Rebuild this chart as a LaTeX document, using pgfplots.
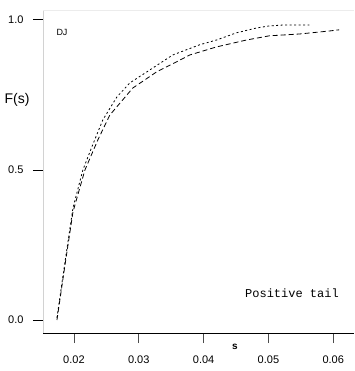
\documentclass[border=0pt]{standalone}
\usepackage{fontspec}
\setmainfont{Liberation Sans}
\setmonofont{Liberation Mono}
\usepackage{pgfplots}
\pgfplotsset{compat=1.18}
\begin{document}
\begin{tikzpicture}
\path[use as bounding box] (-43pt,-38pt) rectangle (311pt,333pt);
\begin{axis}[
  at={(0pt,0pt)}, anchor=south west,
  scale only axis, width=311pt, height=323pt,
  xmin=0.01523, xmax=0.0632, ymin=-0.0433, ymax=1.033,
  axis line style={draw=none},
  tick pos=left, tick align=outside,
  xtick={0.02,0.03,0.04,0.05,0.06},
  xticklabels={0.02,0.03,0.04,0.05,0.06},
  ytick={0,0.5,1},
  yticklabels={0.0,0.5,1.0},
  x tick style={black!70, line width=0.6pt},
  y tick style={black, line width=0.8pt},
  major tick length=10pt,
  tick label style={font=\fontsize{11}{12}\selectfont},
  xticklabel style={yshift=-12pt, inner sep=1pt},
  yticklabel style={xshift=-6pt},
  /pgf/number format/assume math mode=true,
  clip=false,
]
\draw[gray!35, line width=0.6pt] (rel axis cs:0,0) -- (rel axis cs:0,1);
\draw[gray!15, line width=0.6pt] (rel axis cs:0,1) -- (rel axis cs:1,1);
\draw[black, line width=1pt] (rel axis cs:0,0) -- (rel axis cs:1,0);
% upper (dotted)
\addplot[black, line width=0.8pt, dash pattern=on 2pt off 2.5pt] coordinates {
(0.01738,0.007) (0.01862,0.193) (0.01985,0.373) (0.02138,0.5) (0.02277,0.577)
(0.02446,0.667) (0.02662,0.743) (0.02862,0.79) (0.03169,0.833) (0.03523,0.883)
(0.03938,0.917) (0.042,0.933) (0.04508,0.957) (0.04815,0.973) (0.05015,0.98)
(0.05231,0.983) (0.05631,0.983)
};
% lower (dashed)
\addplot[black, line width=0.8pt, dash pattern=on 5pt off 3pt] coordinates {
(0.01738,0) (0.01862,0.183) (0.01985,0.36) (0.0217,0.5) (0.02369,0.6)
(0.02554,0.683) (0.02908,0.773) (0.03277,0.827) (0.03554,0.857) (0.03785,0.883)
(0.042,0.91) (0.04662,0.933) (0.05015,0.947) (0.05477,0.953) (0.05938,0.963)
(0.06092,0.967)
};
\end{axis}
\node[font=\fontsize{9}{10}\selectfont] at (19pt,301pt) {DJ};
\node[font=\fontsize{14}{16}\selectfont] at (-26pt,233pt) {F(s)};
\node[font=\fontsize{10}{12}\selectfont\bfseries] at (192pt,-14pt) {s};
\node[font=\ttfamily\fontsize{12}{14}\selectfont] at (249pt,40pt) {Positive tail};
\end{tikzpicture}
\end{document}
